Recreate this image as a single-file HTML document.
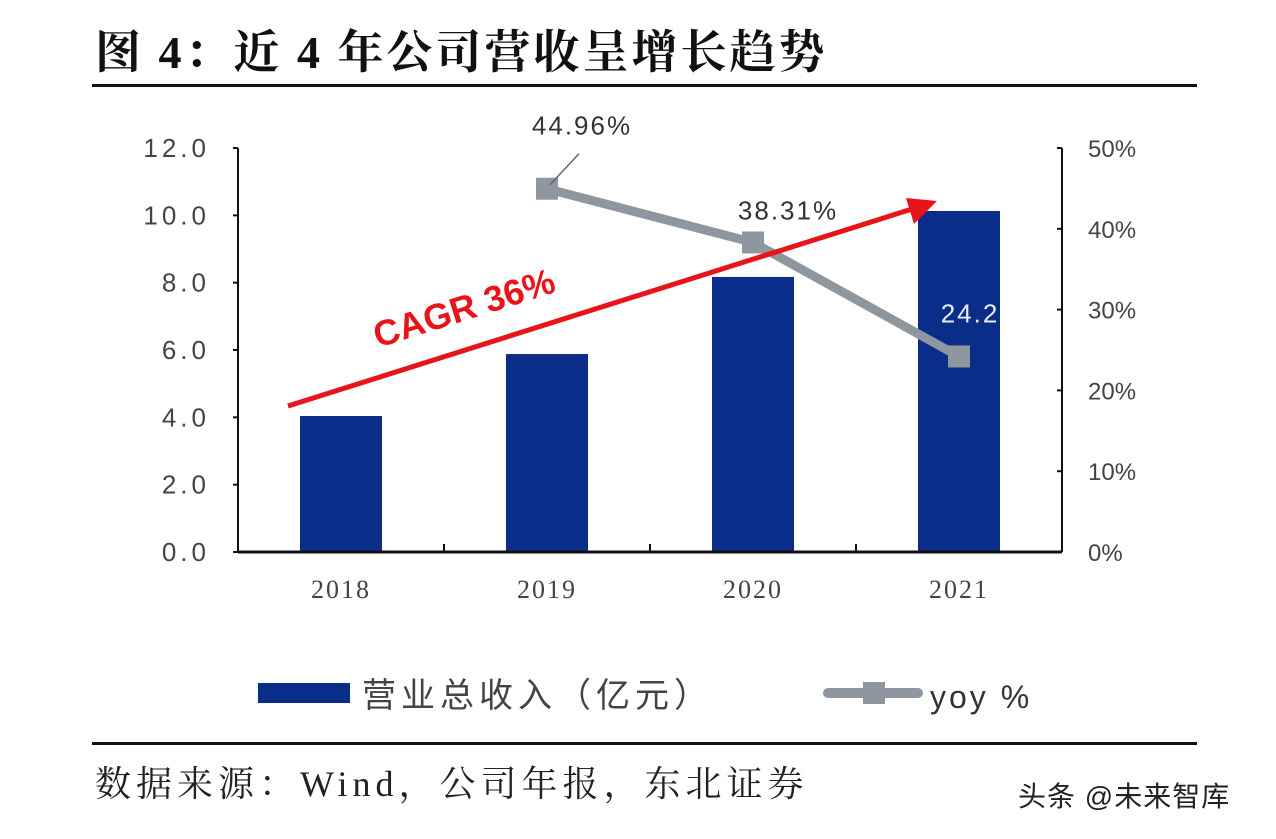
<!DOCTYPE html>
<html><head><meta charset="utf-8"><style>
body{margin:0;background:#fff;width:1276px;height:834px;overflow:hidden}
svg text{font-family:"Liberation Sans","Noto Sans CJK SC",sans-serif}
</style></head><body>
<svg id="c" width="1276" height="834" xmlns="http://www.w3.org/2000/svg">
<text x="95" y="68" style="font-family:'Liberation Serif','Noto Serif CJK SC',serif;letter-spacing:3px" font-size="46" font-weight="bold" fill="#111">图 4：近 4 年公司营收呈增长趋势</text>
<rect x="92" y="84" width="1105" height="3" fill="#111"/>
<rect x="92" y="742" width="1105" height="3" fill="#111"/>
<text x="95" y="796" style="font-family:'Liberation Serif','Noto Serif CJK SC',serif;letter-spacing:5px" font-size="36" fill="#222">数据来源：Wind，公司年报，东北证券</text>
<text x="1018" y="806" font-size="28" fill="#222" style="letter-spacing:1px">头条 @未来智库</text>
<g id="plot"></g>
<g>
<rect x="258" y="683" width="92" height="20" fill="#0a2d8a"/>
<text x="362" y="707" font-size="34" fill="#444" style="letter-spacing:5px">营业总收入（亿元）</text>
<line x1="828" y1="693" x2="918" y2="693" stroke="#8e969f" stroke-width="10" stroke-linecap="round"/>
<rect x="863" y="682" width="22" height="22" fill="#8e969f"/>
<text x="930" y="708" font-size="32" fill="#333" style="letter-spacing:3px">yoy %</text>
</g>
</svg>
<script>
const categories=['2018','2019','2020','2021'];
const revenue=[4.04,5.88,8.17,10.13];
const yoy=[null,44.96,38.31,24.2];
const yoyLabels=['','44.96%','38.31%','24.2'];
const leftTicks=['0.0','2.0','4.0','6.0','8.0','10.0','12.0'];
const rightTicks=['0%','10%','20%','30%','40%','50%'];
const NS='http://www.w3.org/2000/svg';
const g=document.getElementById('plot');
const X0=238,X1=1062,Y0=552,Y1=148;
const band=(X1-X0)/categories.length;
const xc=i=>X0+band*(i+0.5);
const yl=v=>Y0-(v/12)*(Y0-Y1);
const yr=v=>Y0-(v/50)*(Y0-Y1);
function mk(t,a,txt){const e=document.createElementNS(NS,t);for(const k in a)e.setAttribute(k,a[k]);if(txt!==undefined)e.textContent=txt;g.appendChild(e);return e;}
revenue.forEach((v,i)=>{const e=mk('rect',{x:xc(i)-41,y:yl(v),width:82,height:Y0-yl(v),fill:'#0a2d8a'});

});
let e=mk('line',{x1:X0,y1:Y1,x2:X0,y2:Y0,stroke:'#111','stroke-width':2});


e=mk('line',{x1:X1,y1:Y1,x2:X1,y2:Y0,stroke:'#111','stroke-width':2});


e=mk('line',{x1:X0,y1:Y0,x2:X1,y2:Y0,stroke:'#111','stroke-width':3});


leftTicks.forEach((t,i)=>{const y=yl(i*2);mk('line',{x1:X0-5,y1:y,x2:X0,y2:y,stroke:'#111','stroke-width':2});
const tx=mk('text',{x:210,y:y+9,'text-anchor':'end','font-size':26,fill:'#444',style:'letter-spacing:4px'},t);

});
rightTicks.forEach((t,i)=>{const y=yr(i*10);mk('line',{x1:X1-5,y1:y,x2:X1,y2:y,stroke:'#111','stroke-width':2});
const tx=mk('text',{x:1088,y:y+9,'font-size':24,fill:'#444'},t);

});
for(let i=1;i<categories.length;i++){mk('line',{x1:X0+band*i,y1:Y0-8,x2:X0+band*i,y2:Y0,stroke:'#111','stroke-width':2});}
categories.forEach((c,i)=>{const tx=mk('text',{x:xc(i),y:598,'text-anchor':'middle','font-size':26,fill:'#444',style:"font-family:'Liberation Serif',serif;letter-spacing:2px"},c);

});
const pts=[];yoy.forEach((v,i)=>{if(v!==null)pts.push([xc(i),yr(v)]);});
e=mk('polyline',{points:pts.map(p=>p.join(',')).join(' '),fill:'none',stroke:'#8e969f','stroke-width':9});


yoy.forEach((v,i)=>{if(v===null)return;const x=xc(i),y=yr(v);
const m=mk('rect',{x:x-11,y:y-11,width:22,height:22,fill:'#8e969f'});


const lx=i===3?970:x+35,ly=i===1?y-54:(i===2?y-23:y-34);
const t=mk('text',{x:lx,y:ly,'text-anchor':'middle','font-size':26,fill:i===3?'#e8ecf5':'#333',style:'letter-spacing:2px'},yoyLabels[i]);


if(i===1){mk('line',{x1:x+3,y1:y-4,x2:x+32,y2:y-35,stroke:'#666','stroke-width':1.5});}
});
e=mk('line',{x1:288,y1:406,x2:912,y2:209,stroke:'#e8141a','stroke-width':5});


e=mk('polygon',{points:'937,201 906,198 914,224',fill:'#e8141a'});


e=mk('text',{x:0,y:0,'font-size':36,'font-weight':'bold',fill:'#e8141a',transform:'translate(378,348) rotate(-17.5)'},'CAGR 36%');


</script>
</body></html>
